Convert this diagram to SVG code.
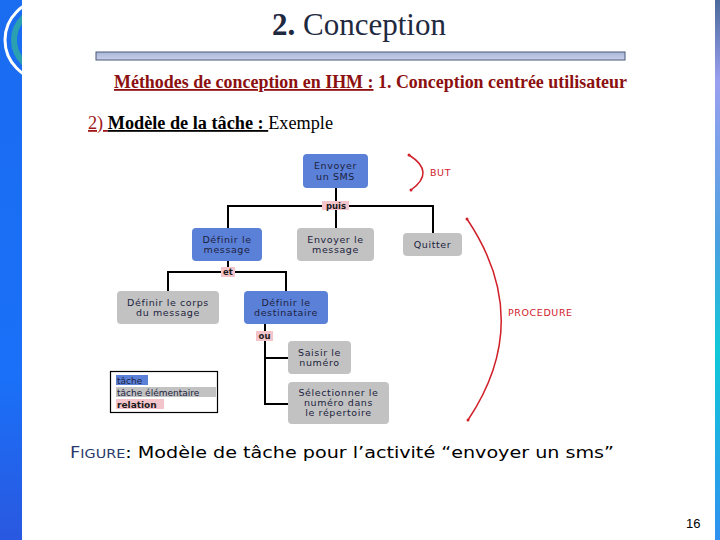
<svg xmlns="http://www.w3.org/2000/svg" width="720" height="540" viewBox="0 0 720 540">
<defs>
<linearGradient id="rbar" x1="0" y1="0" x2="0" y2="1">
<stop offset="0" stop-color="#4a6a9a"/><stop offset="0.15" stop-color="#9aa0f0"/><stop offset="0.45" stop-color="#4aa0e0"/><stop offset="0.65" stop-color="#10c8d8"/><stop offset="1" stop-color="#3090f0"/>
</linearGradient>
<linearGradient id="lbar" x1="0" y1="0" x2="0" y2="1">
<stop offset="0" stop-color="#1a6cf0"/><stop offset="0.7" stop-color="#1a70f8"/><stop offset="1" stop-color="#2a58e0"/>
</linearGradient>
<linearGradient id="hbar" x1="0" y1="0" x2="0" y2="1">
<stop offset="0" stop-color="#a9b6d8"/><stop offset="1" stop-color="#c8d0ea"/>
</linearGradient>
<clipPath id="lclip"><rect x="0" y="0" width="22" height="540"/></clipPath>
<style>
.t{font-family:"DejaVu Sans",Verdana,sans-serif;font-size:9.5px;letter-spacing:0.6px;fill:#1c2340;text-anchor:middle}
.task{fill:#5b80d8}
.elem{fill:#c2c2c2}
.rel{fill:#f4c4cb}
.rt{font-family:"DejaVu Sans",sans-serif;font-size:8.5px;font-weight:bold;fill:#1a1a1a;text-anchor:middle}
.ln{stroke:#000;stroke-width:2;fill:none}
.red{stroke:#d0202a;stroke-width:1.5;fill:none}
.rtxt{font-family:"DejaVu Sans",sans-serif;font-size:9.5px;letter-spacing:0.6px;fill:#d0202a}
</style>
</defs>
<rect width="720" height="540" fill="#ffffff"/>
<rect x="0" y="0" width="22" height="540" fill="url(#lbar)"/>
<g clip-path="url(#lclip)">
<circle cx="45" cy="40" r="40" fill="none" stroke="#ffffff" stroke-width="3"/>
<circle cx="45" cy="40" r="31" fill="none" stroke="#2aa0b0" stroke-width="6"/>
</g>
<rect x="715" y="0" width="5" height="540" fill="url(#rbar)"/>
<text x="359" y="35" text-anchor="middle" font-family="'Liberation Serif',serif" font-size="31" fill="#1f2940"><tspan font-weight="bold">2.</tspan> Conception</text>
<rect x="96" y="52" width="529" height="8" fill="url(#hbar)" stroke="#4a5a7a" stroke-width="1"/>
<text x="114" y="88" font-family="'Liberation Serif',serif" font-size="18" font-weight="bold" fill="#8c1010" textLength="513" lengthAdjust="spacingAndGlyphs"><tspan text-decoration="underline">Méthodes de conception en IHM :</tspan> 1. Conception centrée utilisateur</text>
<text x="88" y="129" font-family="'Liberation Serif',serif" font-size="18" textLength="245" lengthAdjust="spacingAndGlyphs"><tspan fill="#a01818" text-decoration="underline">2)  </tspan><tspan font-weight="bold" fill="#000" text-decoration="underline">Modèle de la tâche : </tspan><tspan fill="#000">Exemple</tspan></text>
<g id="connectors">
<path class="ln" d="M336 188V229M228 228V206H433V233"/>
<path class="ln" d="M228 261V272M168 291V272H286V291"/>
<path class="ln" d="M265 324V404H289M265 358H289"/>
<path class="red" d="M409 155Q436 172 411 190"/>
<circle cx="409" cy="155" r="1.5" fill="#d0202a"/><circle cx="411" cy="190" r="1.5" fill="#d0202a"/>
<path class="red" d="M467 219Q535 320 468 420"/>
<circle cx="467" cy="219" r="1.5" fill="#d0202a"/><circle cx="468" cy="420" r="1.5" fill="#d0202a"/>
</g>
<g id="rel-puis"><rect class="rel" x="322" y="201" width="27" height="9"/><text class="rt" x="336" y="208.5">puis</text></g>
<g id="rel-et"><rect class="rel" x="221" y="267" width="14" height="10"/><text class="rt" x="228" y="275">et</text></g>
<g id="rel-ou"><rect class="rel" x="256" y="331" width="17" height="10"/><text class="rt" x="264.5" y="339">ou</text></g>
<g id="n-envoyer-sms"><rect class="task" x="303" y="154" width="65" height="34" rx="4"/><text class="t" x="335.5" y="169">Envoyer</text><text class="t" x="335.5" y="180">un SMS</text></g>
<g id="n-definir-message"><rect class="task" x="192" y="228" width="70" height="33" rx="4"/><text class="t" x="227" y="243">Définir le</text><text class="t" x="227" y="253">message</text></g>
<g id="n-envoyer-message"><rect class="elem" x="297" y="228" width="77" height="33" rx="4"/><text class="t" x="335.5" y="243">Envoyer le</text><text class="t" x="335.5" y="253">message</text></g>
<g id="n-quitter"><rect class="elem" x="403" y="233" width="59" height="23" rx="4"/><text class="t" x="432.5" y="247.5">Quitter</text></g>
<g id="n-corps"><rect class="elem" x="117" y="291" width="102" height="33" rx="4"/><text class="t" x="168" y="306">Définir le corps</text><text class="t" x="168" y="316">du message</text></g>
<g id="n-destinataire"><rect class="task" x="244" y="291" width="84" height="33" rx="4"/><text class="t" x="286" y="306">Définir le</text><text class="t" x="286" y="316">destinataire</text></g>
<g id="n-saisir"><rect class="elem" x="288" y="341" width="63" height="33" rx="4"/><text class="t" x="319.5" y="356">Saisir le</text><text class="t" x="319.5" y="366">numéro</text></g>
<g id="n-selectionner"><rect class="elem" x="288" y="382" width="101" height="42" rx="4"/><text class="t" x="338.5" y="396">Sélectionner le</text><text class="t" x="338.5" y="406">numéro dans</text><text class="t" x="338.5" y="416">le répertoire</text></g>
<g id="legend">
<rect x="110.5" y="371.5" width="107" height="41" fill="#fff" stroke="#000" stroke-width="1.2"/>
<rect class="task" x="116" y="375" width="32" height="10"/>
<rect class="elem" x="116" y="387" width="100" height="10"/>
<rect class="rel" x="116" y="399" width="48" height="10"/>
<text x="117" y="383.5" font-family="'DejaVu Sans',sans-serif" font-size="9" fill="#1c2340">tâche</text>
<text x="117" y="395.5" font-family="'DejaVu Sans',sans-serif" font-size="9" fill="#1c2340">tâche élémentaire</text>
<text x="117" y="407.5" font-family="'DejaVu Sans',sans-serif" font-size="9" font-weight="bold" fill="#1a1a1a">relation</text>
</g>
<text class="rtxt" x="430" y="176">BUT</text>
<text class="rtxt" x="508" y="316">PROCEDURE</text>
<text x="70" y="458" font-family="'DejaVu Sans',sans-serif" font-size="16" fill="#000" textLength="544" lengthAdjust="spacingAndGlyphs"><tspan fill="#2a3a6a" font-size="15">F</tspan><tspan fill="#2a3a6a" font-size="12">IGURE</tspan>: Modèle de tâche pour l’activité “envoyer un sms”</text>
<text x="686" y="528" font-family="'Liberation Sans',sans-serif" font-size="13" fill="#000">16</text>
</svg>
